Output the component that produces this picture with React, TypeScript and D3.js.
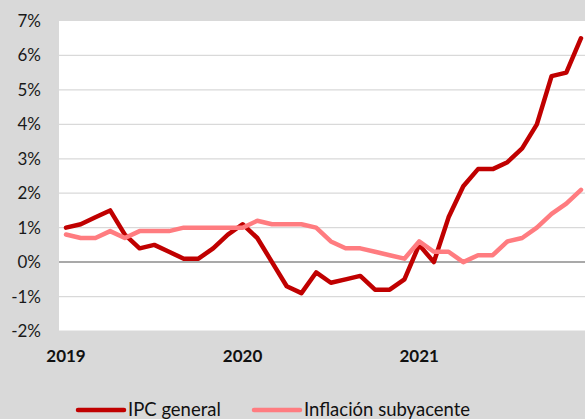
import * as d3 from "d3";
import React from "react";

const W = 585;
const H = 419;
const margin = { top: 21, right: 0, bottom: 88, left: 59 };

// monthly, Jan 2019 - Dec 2021
const months = d3.range(36);
const ipcGeneral = [
  1.0, 1.1, 1.3, 1.5, 0.8, 0.4, 0.5, 0.3, 0.1, 0.1, 0.4, 0.8,
  1.1, 0.7, 0.0, -0.7, -0.9, -0.3, -0.6, -0.5, -0.4, -0.8, -0.8, -0.5,
  0.5, 0.0, 1.3, 2.2, 2.7, 2.7, 2.9, 3.3, 4.0, 5.4, 5.5, 6.5,
];
const subyacente = [
  0.8, 0.7, 0.7, 0.9, 0.7, 0.9, 0.9, 0.9, 1.0, 1.0, 1.0, 1.0,
  1.0, 1.2, 1.1, 1.1, 1.1, 1.0, 0.6, 0.4, 0.4, 0.3, 0.2, 0.1,
  0.6, 0.3, 0.3, 0.0, 0.2, 0.2, 0.6, 0.7, 1.0, 1.4, 1.7, 2.1,
];
const yearLabels = ["2019", "2020", "2021"];
const yearIndex = [0, 12, 24];
const yTicks = [-2, -1, 0, 1, 2, 3, 4, 5, 6, 7];

const series = [
  { name: "IPC general", values: ipcGeneral, color: "#C00000" },
  { name: "Inflación subyacente", values: subyacente, color: "#FF7C80" },
];

const font = "Lato, 'Liberation Sans', sans-serif";

export default function App() {
  const x = d3.scaleLinear().domain([0, 35]).range([66, 581]);
  const y = d3.scaleLinear().domain([-2, 7]).range([H - margin.bottom, margin.top]);
  const line = d3
    .line<number>()
    .x((_, i) => x(months[i]))
    .y((d) => y(d));

  return (
    <svg
      width={W}
      height={H}
      style={{ position: "absolute", left: 0, top: 0, background: "#D9D9D9" }}
    >
      <rect
        x={margin.left}
        y={margin.top}
        width={W - margin.left - margin.right}
        height={y(-2) - y(7)}
        fill="#ffffff"
      />
      {yTicks.map((t) => (
        <g key={t}>
          {t !== 7 && (
            <line
              x1={margin.left}
              x2={W}
              y1={y(t)}
              y2={y(t)}
              stroke={t === 0 ? "#8C8C8C" : "#D9D9D9"}
              strokeWidth={t === 0 ? 1.5 : 1.2}
            />
          )}
          <text
            x={41}
            y={y(t)}
            dy="0.35em"
            textAnchor="end"
            fontFamily={font}
            fontSize={17}
            fill="#1a1a1a"
          >
            {t}%
          </text>
        </g>
      ))}
      {yearLabels.map((lab, i) => (
        <text
          key={lab}
          x={x(yearIndex[i])}
          y={362}
          textAnchor="middle"
          fontFamily={font}
          fontWeight="bold"
          fontSize={17}
          fill="#111"
        >
          {lab}
        </text>
      ))}
      {series.map((s) => (
        <path
          key={s.name}
          d={line(s.values) || ""}
          fill="none"
          stroke={s.color}
          strokeWidth={4.5}
          strokeLinejoin="round"
          strokeLinecap="round"
        />
      ))}
      {/* legend */}
      {series.map((s, i) => {
        const lx = i === 0 ? 78 : 254;
        return (
          <g key={s.name}>
            <line
              x1={lx}
              x2={lx + 46}
              y1={410}
              y2={410}
              stroke={s.color}
              strokeWidth={4.5}
              strokeLinecap="round"
            />
            <text
              x={lx + 50}
              y={410}
              dy="0.35em"
              fontFamily={font}
              fontSize={18.5}
              fill="#111"
            >
              {s.name}
            </text>
          </g>
        );
      })}
    </svg>
  );
}
